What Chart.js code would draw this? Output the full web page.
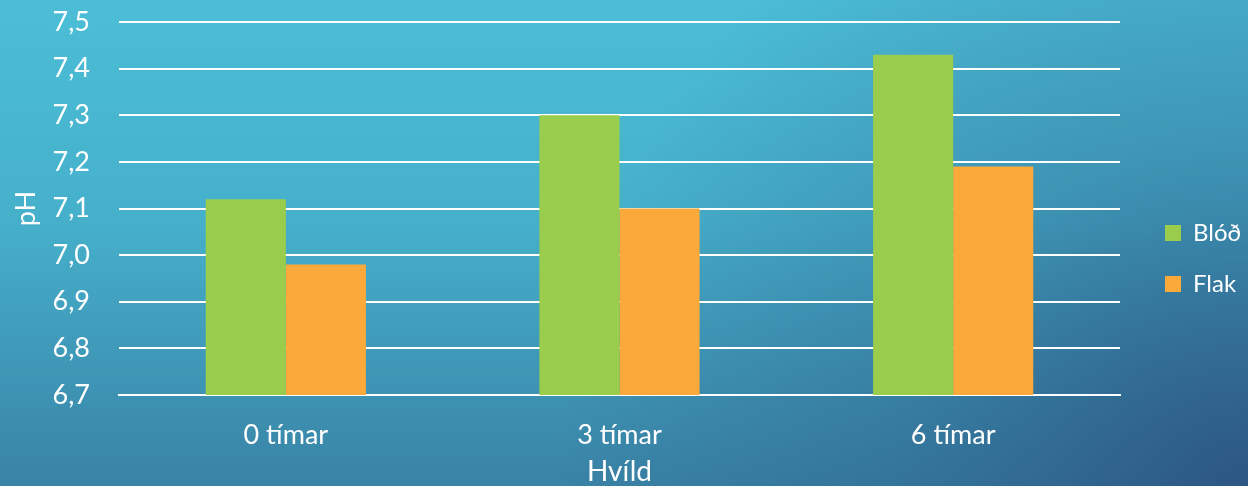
<!DOCTYPE html>
<html>
<head>
<meta charset="utf-8">
<script src="https://cdn.jsdelivr.net/npm/chart.js@4/dist/chart.umd.min.js"></script>
<style>
  html, body { margin: 0; padding: 0; background: #3f9cbc; }
  #wrap { width: 1248px; height: 486px; position: relative; }
</style>
</head>
<body>
<div id="wrap"><canvas id="c" width="1248" height="486"></canvas></div>
<script>
// pH eftir hvíldartíma
const categories = ['0 tímar', '3 tímar', '6 tímar'];
const blod = [7.12, 7.30, 7.43];
const flak = [6.98, 7.10, 7.19];
const yTicks = [6.7, 6.8, 6.9, 7.0, 7.1, 7.2, 7.3, 7.4, 7.5];

const FONT = 'Lato, "DejaVu Sans", sans-serif';
const FS = 27;

// Slide-style background: cyan at the top, deep blue toward the lower right
const backdrop = {
  id: 'backdrop',
  beforeDraw(chart) {
    const { ctx, width, height } = chart;
    ctx.save();
    const g = ctx.createLinearGradient(0, 0, 0, height);
    g.addColorStop(0, '#4bbed6');
    g.addColorStop(0.45, '#46b0cb');
    g.addColorStop(1, '#3983a6');
    ctx.fillStyle = g;
    ctx.fillRect(0, 0, width, height);
    const r = ctx.createRadialGradient(width, height, 0, width, height, 700);
    r.addColorStop(0, 'rgba(40, 70, 120, 0.75)');
    r.addColorStop(0.5, 'rgba(40, 80, 125, 0.3)');
    r.addColorStop(1, 'rgba(40, 80, 125, 0)');
    ctx.fillStyle = r;
    ctx.fillRect(0, 0, width, height);
    ctx.restore();
  }
};

// Legend sits in a fixed-width column on the right, first entry near mid-height
const legendColumn = {
  id: 'legendColumn',
  afterInit(chart) {
    const lg = chart.legend;
    if (!lg || lg._patched) return;
    lg._patched = true;
    const fit = lg.fit;
    lg.fit = function () { fit.call(this); this.width = 128; };
    const draw = lg.draw;
    lg.draw = function () {
      const hb = this.legendHitBoxes && this.legendHitBoxes[0];
      const ctx = this.ctx;
      ctx.save();
      if (hb) ctx.translate(1165 - hb.left, 233 - (hb.top + hb.height / 2));
      draw.call(this);
      ctx.restore();
    };
  }
};

new Chart(document.getElementById('c'), {
  type: 'bar',
  data: {
    labels: categories,
    datasets: [
      { label: 'Blóð', data: blod, backgroundColor: '#9bcd4c', borderWidth: 0 },
      { label: 'Flak', data: flak, backgroundColor: '#fba93a', borderWidth: 0 }
    ]
  },
  options: {
    responsive: false,
    animation: false,
    devicePixelRatio: 1,
    layout: { padding: { top: 22, right: 0, bottom: 0, left: 0 } },
    datasets: { bar: { categoryPercentage: 0.48, barPercentage: 1.0 } },
    plugins: {
      legend: {
        position: 'right',
        align: 'center',
        labels: {
          color: '#ffffff',
          boxWidth: 16,
          boxHeight: 16,
          padding: 27,
          font: { family: FONT, size: 24 }
        }
      },
      tooltip: { enabled: false }
    },
    scales: {
      x: {
        grid: { display: false, drawTicks: false },
        border: { display: true, color: '#ffffff', width: 2 },
        ticks: { color: '#ffffff', padding: 24, font: { family: FONT, size: FS } },
        title: {
          display: true, text: 'Hvíld', color: '#ffffff',
          font: { family: FONT, size: 28, lineHeight: 1.0 }, padding: { top: 0, bottom: 0 }
        },
        afterFit(s) { s.height = 91; s.paddingLeft = 0; s.paddingRight = 0; }
      },
      y: {
        min: 6.7,
        max: 7.5,
        afterBuildTicks(s) { s.ticks = yTicks.map(v => ({ value: v })); },
        grid: { color: '#ffffff', lineWidth: 2, drawTicks: false },
        border: { display: false },
        ticks: {
          color: '#ffffff', padding: 29,
          font: { family: FONT, size: FS },
          callback: v => Number(v).toFixed(1).replace('.', ',')
        },
        title: {
          display: true, text: 'pH', color: '#ffffff',
          font: { family: FONT, size: FS }, padding: { top: 10, bottom: 0 }
        },
        afterFit(s) { s.width = 119; s.paddingTop = 0; s.paddingBottom = 0; }
      }
    }
  },
  plugins: [backdrop, legendColumn]
});
</script>
</body>
</html>
